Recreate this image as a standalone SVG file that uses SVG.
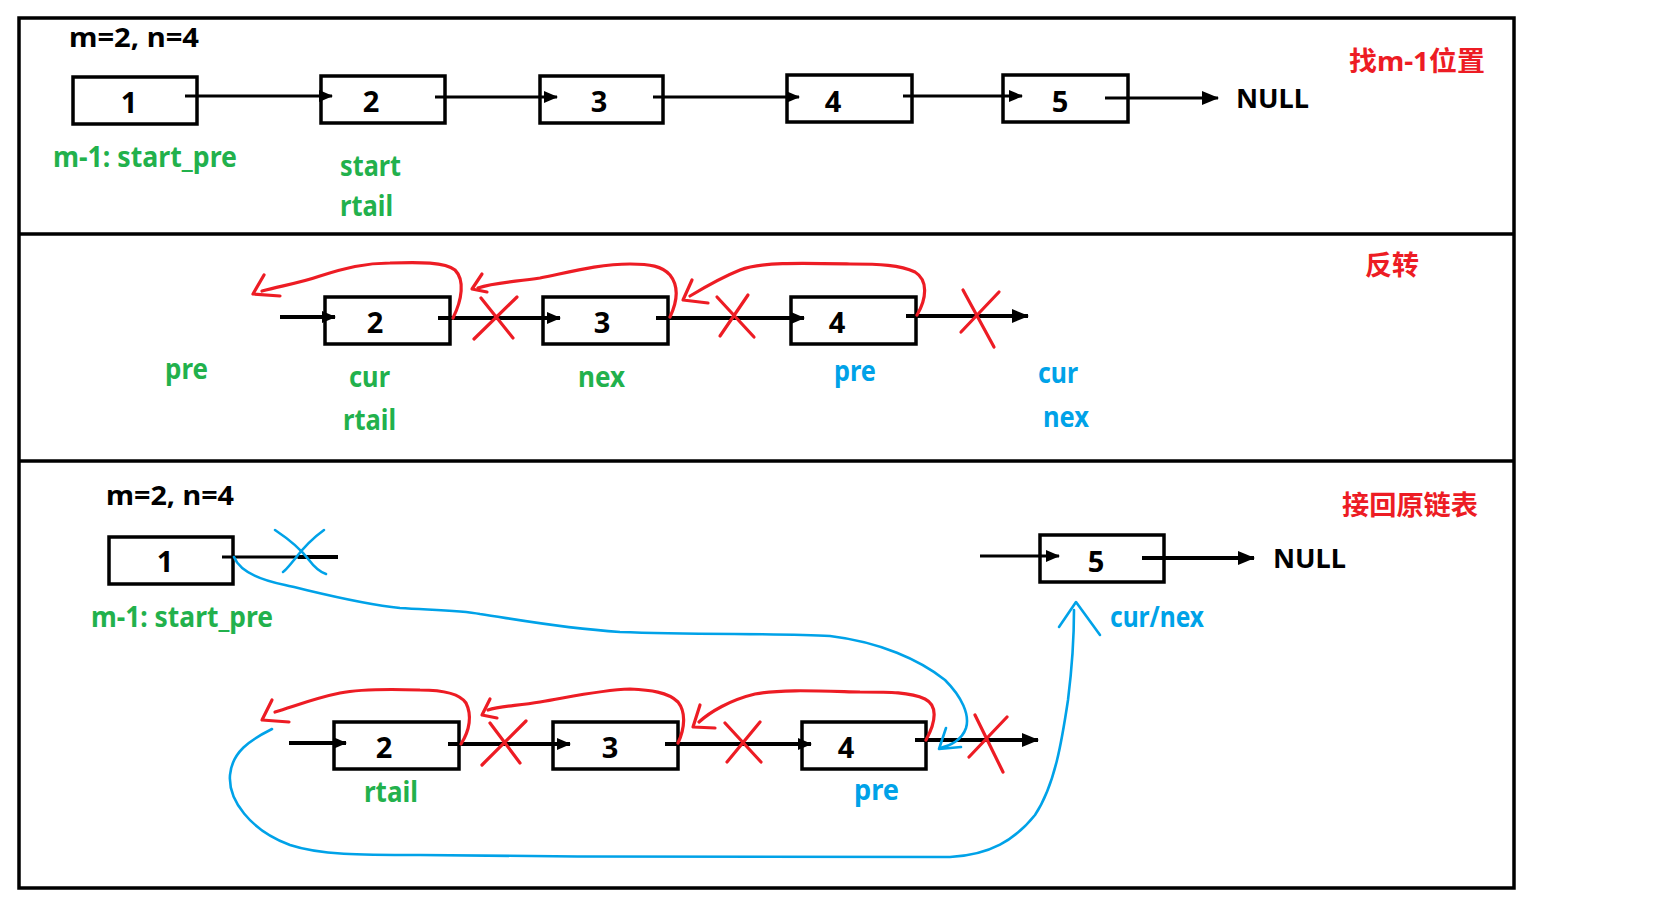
<svg xmlns="http://www.w3.org/2000/svg" width="1672" height="903" viewBox="0 0 1672 903">
<style>
.box{fill:#fff;stroke:#000;stroke-width:3.5}
.t{font-family:"Noto Sans","Noto Sans CJK SC",sans-serif;font-weight:bold}
.dig{font-size:29px;fill:#000;text-anchor:middle}
.blk{font-size:26px;fill:#000}
.g{font-size:28px;fill:#22b14c}
.b{font-size:28px;fill:#00a2e8}
.r{font-size:27px;fill:#ed1c24}
.ln{fill:none;stroke:#000;stroke-width:3}
.ln2{fill:none;stroke:#000;stroke-width:4}
.red{fill:none;stroke:#ed1c24;stroke-width:3.2;stroke-linecap:round;stroke-linejoin:round}
.blue{fill:none;stroke:#00a2e8;stroke-width:2.6;stroke-linecap:round;stroke-linejoin:round}
.frame{fill:none;stroke:#000;stroke-width:3.5}
</style>
<defs>
<marker id="ah" markerUnits="userSpaceOnUse" markerWidth="14" markerHeight="12" refX="13" refY="6" orient="auto"><path d="M0,0 L14,6 L0,12 z" fill="#000"/></marker>
<marker id="ahL" markerUnits="userSpaceOnUse" markerWidth="17" markerHeight="14" refX="16" refY="7" orient="auto"><path d="M0,0 L17,7 L0,14 z" fill="#000"/></marker>
</defs>

<g id="frame">
<rect class="frame" x="19" y="18" width="1495" height="870"/>
<line class="frame" x1="19" y1="234" x2="1514" y2="234"/>
<line class="frame" x1="19" y1="461" x2="1514" y2="461"/>
</g>

<!-- Panel 1 -->
<g id="p1-title"><text class="t blk" x="69" y="47" textLength="130" lengthAdjust="spacingAndGlyphs">m=2, n=4</text></g>
<g id="p1-n1"><rect class="box" x="73" y="77" width="124" height="47"/><text class="t dig" x="129" y="113">1</text></g>
<g id="p1-n2"><rect class="box" x="321" y="76" width="124" height="47"/><text class="t dig" x="371" y="112">2</text></g>
<g id="p1-n3"><rect class="box" x="540" y="76" width="123" height="47"/><text class="t dig" x="599" y="112">3</text></g>
<g id="p1-n4"><rect class="box" x="787" y="75" width="125" height="47"/><text class="t dig" x="833" y="112">4</text></g>
<g id="p1-n5"><rect class="box" x="1003" y="75" width="125" height="47"/><text class="t dig" x="1060" y="112">5</text></g>
<g id="p1-null"><text class="t blk" x="1236" y="108" font-size="27" textLength="73" lengthAdjust="spacingAndGlyphs">NULL</text></g>
<g id="p1-labels">
<text class="t r" x="1349" y="71" textLength="136" lengthAdjust="spacingAndGlyphs">找m-1位置</text>
<text class="t g" x="53" y="167" textLength="184" lengthAdjust="spacingAndGlyphs">m-1: start_pre</text>
<text class="t g" x="340" y="176" textLength="61" lengthAdjust="spacingAndGlyphs">start</text>
<text class="t g" x="340" y="216" textLength="53" lengthAdjust="spacingAndGlyphs">rtail</text>
</g>

<!-- Panel 2 -->
<g id="p2-n2"><rect class="box" x="325" y="297" width="125" height="47"/><text class="t dig" x="375" y="333">2</text></g>
<g id="p2-n3"><rect class="box" x="543" y="297" width="125" height="47"/><text class="t dig" x="602" y="333">3</text></g>
<g id="p2-n4"><rect class="box" x="791" y="297" width="125" height="47"/><text class="t dig" x="837" y="333">4</text></g>
<g id="p2-labels">
<text class="t r" x="1365" y="275" textLength="54" lengthAdjust="spacingAndGlyphs">反转</text>
<text class="t g" x="165" y="379" textLength="43" lengthAdjust="spacingAndGlyphs">pre</text>
<text class="t g" x="349" y="387" textLength="41" lengthAdjust="spacingAndGlyphs">cur</text>
<text class="t g" x="343" y="430" textLength="53" lengthAdjust="spacingAndGlyphs">rtail</text>
<text class="t g" x="578" y="387" textLength="47" lengthAdjust="spacingAndGlyphs">nex</text>
<text class="t b" x="834" y="381" textLength="42" lengthAdjust="spacingAndGlyphs">pre</text>
<text class="t b" x="1038" y="383" textLength="40" lengthAdjust="spacingAndGlyphs">cur</text>
<text class="t b" x="1043" y="427" textLength="46" lengthAdjust="spacingAndGlyphs">nex</text>
</g>

<!-- Panel 3 -->
<g id="p3-title"><text class="t blk" x="106" y="505" textLength="128" lengthAdjust="spacingAndGlyphs">m=2, n=4</text></g>
<g id="p3-n1"><rect class="box" x="109" y="537" width="124" height="47"/><text class="t dig" x="165" y="572">1</text></g>
<g id="p3-n5"><rect class="box" x="1040" y="535" width="124" height="47"/><text class="t dig" x="1096" y="572">5</text></g>
<g id="p3-null"><text class="t blk" x="1273" y="568" font-size="27" textLength="73" lengthAdjust="spacingAndGlyphs">NULL</text></g>
<g id="p3-n2"><rect class="box" x="334" y="722" width="125" height="47"/><text class="t dig" x="384" y="758">2</text></g>
<g id="p3-n3"><rect class="box" x="553" y="722" width="125" height="47"/><text class="t dig" x="610" y="758">3</text></g>
<g id="p3-n4"><rect class="box" x="802" y="722" width="124" height="47"/><text class="t dig" x="846" y="758">4</text></g>
<g id="p3-labels">
<text class="t r" x="1342" y="515" textLength="136" lengthAdjust="spacingAndGlyphs">接回原链表</text>
<text class="t g" x="91" y="627" textLength="182" lengthAdjust="spacingAndGlyphs">m-1: start_pre</text>
<text class="t b" x="1110" y="627" textLength="94" lengthAdjust="spacingAndGlyphs">cur/nex</text>
<text class="t g" x="364" y="802" textLength="54" lengthAdjust="spacingAndGlyphs">rtail</text>
<text class="t b" x="854" y="800" textLength="45" lengthAdjust="spacingAndGlyphs">pre</text>
</g>

<g id="connectors">
<!-- panel 1 -->
<path class="ln" d="M185,96 L332,96" marker-end="url(#ah)"/>
<path class="ln" d="M435,97 L557,97" marker-end="url(#ah)"/>
<path class="ln" d="M653,97 L799,97" marker-end="url(#ah)"/>
<path class="ln" d="M903,96 L1022,96" marker-end="url(#ah)"/>
<path class="ln" d="M1105,98 L1218,98" marker-end="url(#ahL)"/>
<!-- panel 2 -->
<path class="ln2" d="M280,317 L335,317" marker-end="url(#ah)"/>
<path class="ln2" d="M438,318 L560,318" marker-end="url(#ah)"/>
<path class="ln2" d="M656,318 L804,318" marker-end="url(#ah)"/>
<path class="ln2" d="M906,316 L1028,316" marker-end="url(#ahL)"/>
<!-- panel 3 -->
<path class="ln" d="M222,557 L300,557"/>
<path class="ln2" d="M298,557 L338,557" stroke-width="5"/>
<path class="ln" d="M980,556 L1059,556" marker-end="url(#ah)"/>
<path class="ln2" d="M1142,558 L1254,558" marker-end="url(#ahL)"/>
<path class="ln2" d="M289,743 L346,743" marker-end="url(#ah)"/>
<path class="ln2" d="M448,744 L570,744" marker-end="url(#ah)"/>
<path class="ln2" d="M665,744 L811,744" marker-end="url(#ah)"/>
<path class="ln2" d="M915,740 L1038,740" marker-end="url(#ahL)"/>

<!-- red reversal curves panel 2 -->
<path class="red" d="M453,318 C462,300 465,280 455,270 C445,262 420,262 390,263 C365,263 345,268 320,276 C300,283 280,286 262,291"/>
<path class="red" d="M264,275 L253,294 L280,296"/>
<path class="red" d="M670,317 C678,300 678,285 670,275 C662,266 650,264 630,264 C600,264 570,272 540,278 C515,282 495,282 478,288"/>
<path class="red" d="M482,274 L472,289 L487,292"/>
<path class="red" d="M917,315 C927,298 928,280 915,272 C900,265 880,264 850,264 C800,263 760,262 740,270 C720,278 700,290 690,296"/>
<path class="red" d="M692,280 L683,300 L708,303"/>
<!-- red X panel 2 -->
<path class="red" d="M481,298 L513,338 M517,297 L474,339"/>
<path class="red" d="M717,297 L754,337 M748,295 L720,336"/>
<path class="red" d="M963,290 L994,347 M999,292 L961,332"/>

<!-- red reversal curves panel 3 -->
<path class="red" d="M461,744 C470,730 472,715 466,703 C460,694 445,690 420,690 C390,689 360,689 340,693 C315,698 295,706 275,712"/>
<path class="red" d="M272,700 L262,720 L289,722"/>
<path class="red" d="M678,743 C685,728 686,712 678,702 C668,692 650,690 630,689 C600,690 570,697 540,702 C515,706 500,706 488,710"/>
<path class="red" d="M490,699 L482,715 L497,718"/>
<path class="red" d="M926,740 C937,720 937,705 925,699 C910,692 890,692 860,692 C820,691 780,689 755,694 C730,700 710,712 699,722"/>
<path class="red" d="M700,705 L693,727 L715,728"/>
<!-- red X panel 3 -->
<path class="red" d="M490,723 L520,763 M526,721 L482,765"/>
<path class="red" d="M725,723 L761,762 M760,722 L727,762"/>
<path class="red" d="M1007,717 L969,757 M975,715 L1003,772"/>

<!-- blue reconnect strokes panel 3 -->
<path class="blue" d="M275,530 C290,540 303,552 309,560 C315,568 320,572 326,574 M324,530 C310,540 300,552 294,560 C289,566 286,570 283,572"/>
<path class="blue" d="M234,557 C240,572 260,580 285,585 C320,593 360,604 400,608 C430,610 460,610 480,614 C520,620 560,628 620,632 C700,635 780,633 830,636 C880,642 920,660 945,680 C962,697 970,715 966,728 C962,740 950,746 940,748"/>
<path class="blue" d="M946,728 L939,749 L961,747"/>
<path class="blue" d="M272,729 C250,740 232,752 230,775 C228,800 250,830 290,845 C320,855 360,855 420,855 C600,857 800,858 950,857 C990,855 1015,840 1035,815 C1055,785 1062,740 1068,700 C1073,660 1074,630 1074,610"/>
<path class="blue" d="M1059,627 L1076,602 L1100,635"/>
</g>
</svg>
